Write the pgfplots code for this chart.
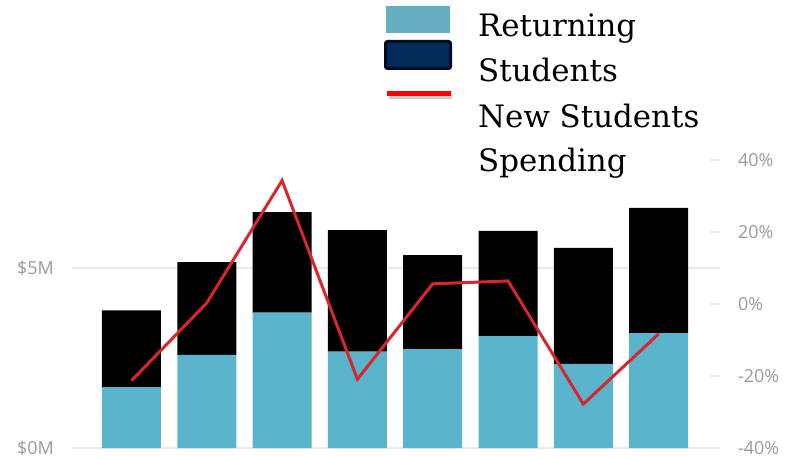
\documentclass[border=0pt]{standalone}
\usepackage{fontspec}
\usepackage{pgfplots}
\pgfplotsset{compat=1.18}
\newfontfamily\tickfont{Open Sans}
\newfontfamily\legfont{DejaVu Serif}
\definecolor{barblue}{HTML}{5AB4CB}
\definecolor{legblue}{HTML}{65AEC2}
\definecolor{legnavy}{HTML}{012C5A}
\definecolor{legborder}{HTML}{000B22}
\definecolor{linered}{HTML}{D9262E}
\definecolor{gridgray}{HTML}{EAEAEA}
\definecolor{ticktext}{HTML}{999999}
\begin{document}
\begin{tikzpicture}
\useasboundingbox (0,0) rectangle (794bp,459bp);
\begin{axis}[
  at={(72bp,11bp)}, anchor=south west,
  scale only axis, width=648bp, height=288bp,
  xmin=-0.79, xmax=7.815, ymin=0, ymax=8,
  ybar stacked, bar width=59bp,
  xtick=\empty,
  ytick={0,5}, yticklabels={\$0M,\$5M},
  ymajorgrids, grid style={gridgray, line width=1.5bp},
  axis line style={draw=none},
  ytick style={draw=none},
  yticklabel style={font=\tickfont\fontsize{18}{21}\selectfont, text=ticktext, inner sep=0pt, xshift=-18bp},
  /pgf/number format/assume math mode=true,
  clip=false,
]
\addplot[fill=barblue, draw=none] coordinates {(0,1.69) (1,2.59) (2,3.76) (3,2.68) (4,2.75) (5,3.11) (6,2.34) (7,3.19)};
\addplot[fill=black, draw=none] coordinates {(0,2.13) (1,2.57) (2,2.79) (3,3.37) (4,2.61) (5,2.92) (6,3.22) (7,3.48)};
\end{axis}
\begin{axis}[
  at={(72bp,11bp)}, anchor=south west,
  scale only axis, width=648bp, height=288bp,
  xmin=-0.79, xmax=7.815, ymin=-40, ymax=40,
  axis x line=none, axis y line*=right,
  y axis line style={draw=none},
  ytick={-40,-20,0,20,40},
  yticklabels={-40\%,-20\%,0\%,20\%,40\%},
  tick align=inside, major tick length=10bp,
  ytick style={gridgray, line width=1.5bp},
  yticklabel style={font=\tickfont\fontsize{18}{21}\selectfont, text=ticktext, inner sep=0pt, anchor=west, xshift=18bp},
  /pgf/number format/assume math mode=true,
  clip=false,
]
\addplot[linered, line width=3bp, line join=miter, mark=none] coordinates {(0,-21.3) (1,0.3) (2,34.3) (3,-20.9) (4,5.6) (5,6.4) (6,-27.8) (7,-8.3)};
\end{axis}
% legend
\fill[legblue] (386bp,426bp) rectangle (450bp,453bp);
\draw[legborder, fill=legnavy, line width=3bp, rounded corners=2bp] (385.5bp,390.5bp) rectangle (450.5bp,417.5bp);
\draw[black!20, line width=4bp] (389bp,362bp) -- (452bp,362bp);
\draw[red, line width=5bp] (387bp,365.5bp) -- (451bp,365.5bp);
\begin{scope}[every node/.style={anchor=base west, inner sep=0pt, font=\legfont\fontsize{31}{37}\selectfont}]
\node at (478bp,422bp) {Returning};
\node at (478bp,377bp) {Students};
\node at (478bp,331bp) {New Students};
\node at (478bp,287bp) {Spending};
\end{scope}
\end{tikzpicture}
\end{document}
